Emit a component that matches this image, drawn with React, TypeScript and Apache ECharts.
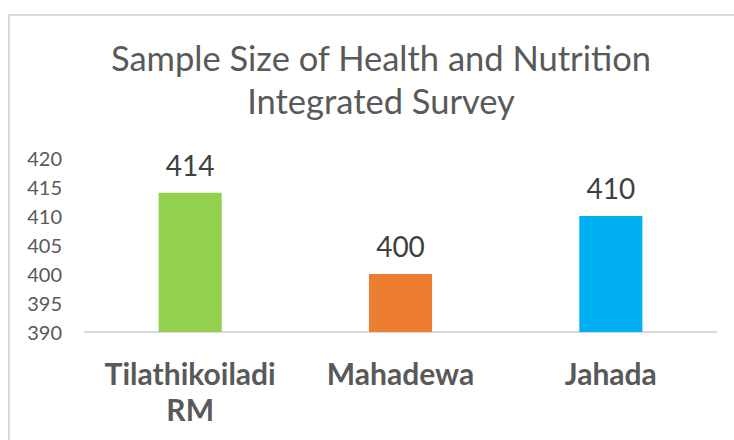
import React, { useEffect, useRef } from "react";
import * as echarts from "echarts";

const categories = ["Tilathikoiladi RM", "Mahadewa", "Jahada"];
const values = [414, 400, 410];
const barColors = ["#92D050", "#ED7D31", "#00B0F0"];
const titleText = "Sample Size of Health and Nutrition\nIntegrated Survey";

export default function App() {
  const ref = useRef<HTMLDivElement>(null);
  useEffect(() => {
    if (!ref.current) return;
    const chart = echarts.init(ref.current, undefined, { renderer: "svg" });
    chart.setOption({
      animation: false,
      backgroundColor: "#ffffff",
      title: {
        text: titleText,
        left: 376,
        textAlign: "center",
        top: 31,
        textStyle: {
          fontFamily: "Lato",
          fontSize: 34.5,
          fontWeight: "normal",
          color: "#595959",
          lineHeight: 43,
        },
      },
      graphic: [
        {
          type: "rect",
          shape: { x: 9, y: 15, width: 800, height: 500 },
          style: { fill: "none", stroke: "#d9d9d9", lineWidth: 2 },
          silent: true,
          z: 0,
        },
      ],
      grid: { left: 85, right: 18, top: 158, bottom: 108, containLabel: false },
      xAxis: {
        type: "category",
        data: categories,
        axisLine: { show: true, lineStyle: { color: "#d9d9d9", width: 2 } },
        axisTick: { show: false },
        axisLabel: {
          interval: 0,
          hideOverlap: false,
          margin: 23,
          fontFamily: "Lato",
          fontWeight: "bold",
          fontSize: 30,
          lineHeight: 36,
          color: "#595959",
          formatter: (v: string) => v.replace(" RM", "\nRM"),
        },
      },
      yAxis: {
        type: "value",
        min: 390,
        max: 420,
        interval: 5,
        axisLine: { show: false },
        axisTick: { show: false },
        splitLine: { show: false },
        axisLabel: {
          margin: 23,
          fontFamily: "Lato",
          fontSize: 20,
          color: "#595959",
        },
      },
      series: [
        {
          type: "bar",
          barWidth: "30%",
          data: values.map((v, i) => ({ value: v, itemStyle: { color: barColors[i] } })),
          label: {
            show: true,
            position: "top",
            distance: 14,
            fontFamily: "Lato",
            fontSize: 28,
            color: "#404040",
          },
        },
      ],
    });
    return () => chart.dispose();
  }, []);
  return (
    <div
      ref={ref}
      style={{ position: "fixed", left: 0, top: 0, width: 734, height: 440 }}
    />
  );
}
